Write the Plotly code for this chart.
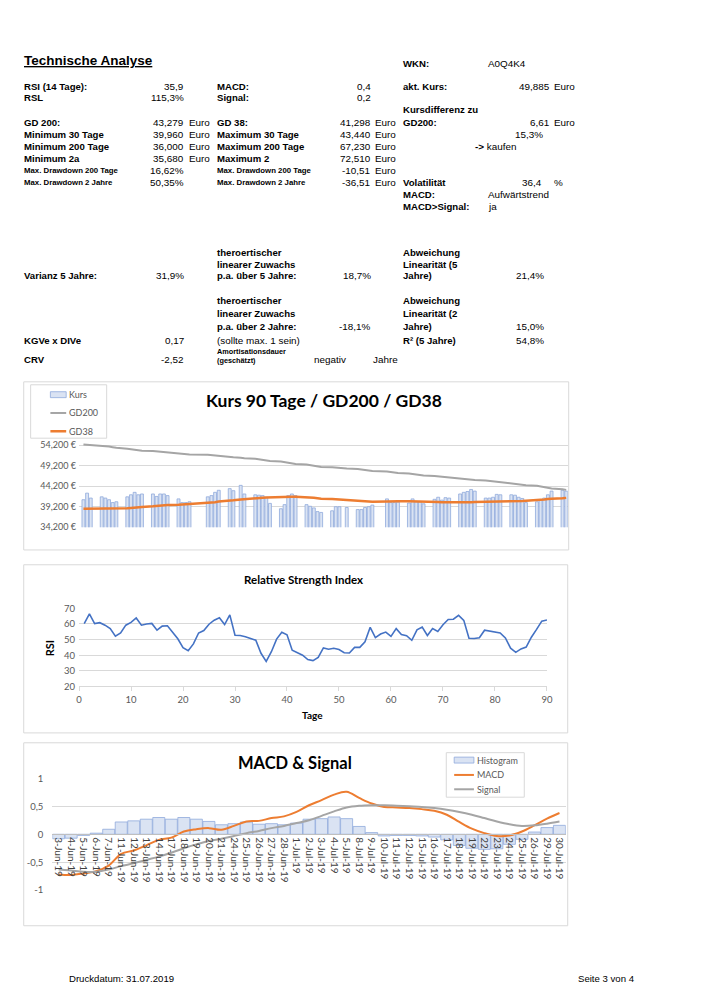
import plotly.graph_objects as go

W, H = 706, 999


def X(px):
    return px / W


def Y(py):
    return 1 - py / H


# ---------------- DATA ----------------
kurs_dates = [
    "2019-03-20", "2019-03-21", "2019-03-22", "2019-03-25", "2019-03-26", "2019-03-27", "2019-03-28", "2019-03-29",
    "2019-04-01", "2019-04-02", "2019-04-03", "2019-04-04", "2019-04-05", "2019-04-08", "2019-04-09", "2019-04-10",
    "2019-04-11", "2019-04-12", "2019-04-15", "2019-04-16", "2019-04-17", "2019-04-18", "2019-04-23", "2019-04-24",
    "2019-04-25", "2019-04-26", "2019-04-29", "2019-04-30",
    "2019-05-02", "2019-05-03", "2019-05-06", "2019-05-07", "2019-05-08", "2019-05-09", "2019-05-10", "2019-05-13",
    "2019-05-14", "2019-05-15", "2019-05-16", "2019-05-17", "2019-05-20", "2019-05-21", "2019-05-22", "2019-05-23",
    "2019-05-24", "2019-05-27", "2019-05-28", "2019-05-29", "2019-05-31",
    "2019-06-03", "2019-06-04", "2019-06-05", "2019-06-06", "2019-06-07", "2019-06-11", "2019-06-12", "2019-06-13",
    "2019-06-14", "2019-06-17", "2019-06-18", "2019-06-19", "2019-06-20", "2019-06-21", "2019-06-24", "2019-06-25",
    "2019-06-26", "2019-06-27", "2019-06-28",
    "2019-07-01", "2019-07-02", "2019-07-03", "2019-07-04", "2019-07-05", "2019-07-08", "2019-07-09", "2019-07-10",
    "2019-07-11", "2019-07-12", "2019-07-15", "2019-07-16", "2019-07-17", "2019-07-18", "2019-07-19", "2019-07-22",
    "2019-07-23", "2019-07-24", "2019-07-25", "2019-07-26", "2019-07-29", "2019-07-30",
]

kurs = [
    40900, 42500, 41300, 41600, 41300, 40900, 40200, 40400,
    41600, 42100, 42700, 42100, 42300, 42300, 41700, 42300, 42300, 41900, 41100, 40200, 40200, 40400,
    41600, 41900, 42700, 43200, 43600, 43100,
    44400, 42300, 42100, 42000, 41900, 41500, 40000, 38700, 39700, 41900, 42300, 41900,
    39700, 39300, 38900, 38000, 37800, 38200, 39200, 39200, 39000,
    38500, 38500, 39000, 39200, 39600, 41100, 40200, 40200, 40300, 40100, 41100, 40400, 40400, 39900,
    41000, 41500, 40800, 41400, 41300,
    42300, 42700, 42900, 43400, 43000, 41300, 41300, 41500, 42200, 42100, 42100, 42000, 41500, 41200, 40200,
    40400, 40900, 41300, 42100, 43000, 43200, 43000,
]

gd200 = [
    54350, 54280, 54220, 54100, 53980, 53850, 53700, 53550,
    53350, 53180, 53050, 52950, 52850, 52750, 52660, 52550, 52450, 52380, 52250, 52120, 52020, 51950,
    51850, 51750, 51620, 51500, 51380, 51250,
    51120, 51000, 50880, 50750, 50600, 50480, 50350, 50220, 50080, 49920, 49780, 49620,
    49480, 49350, 49200, 49050, 48900, 48800, 48700, 48600, 48500,
    48400, 48280, 48170, 48050, 47920, 47800, 47680, 47550, 47420, 47300, 47180, 47050, 46920, 46800,
    46700, 46600, 46480, 46350, 46220,
    46100, 45980, 45880, 45780, 45680, 45580, 45480, 45350, 45220, 45100, 44980, 44850, 44720, 44580, 44450,
    44320, 44180, 43980, 43800, 43620, 43450, 43300,
]

gd38 = [
    38700, 38700, 38700, 38700, 38700, 38720, 38720, 38750,
    38800, 38900, 39000, 39050, 39150, 39300, 39400, 39500, 39550, 39600, 39700, 39750, 39800, 39850,
    40050, 40150, 40300, 40450, 40600, 40750,
    40950, 41050, 41200, 41300, 41380, 41450, 41500, 41550, 41600, 41650, 41650, 41620,
    41550, 41450, 41350, 41250, 41150, 41050, 40950, 40900, 40800,
    40650, 40550, 40450, 40400, 40400, 40450, 40500, 40500, 40500, 40500, 40500, 40500, 40450, 40450,
    40400, 40350, 40300, 40280, 40250,
    40250, 40250, 40280, 40300, 40320, 40350, 40380, 40400, 40420, 40450, 40480, 40500, 40550, 40600, 40650,
    40750, 40850, 40950, 41050, 41150, 41250, 41350,
]

kurs_ticks = [34200, 39200, 44200, 49200, 54200, 59200]
# the top label (59,200 €) sits behind the legend box in the original
kurs_ticktext = ["34,200 €", "39,200 €", "44,200 €", "49,200 €", "54,200 €", ""]

rsi_days = list(range(1, 91))
rsi = [
    60.2, 66.5, 60.2, 60.8, 59.2, 57.0, 52.2, 54.2, 59.2, 61.0,
    63.8, 59.2, 60.0, 60.3, 56.0, 58.6, 58.8, 55.0, 50.5, 44.8,
    42.8, 47.2, 54.2, 55.8, 59.8, 62.4, 63.9, 59.6, 65.8, 52.8,
    52.6, 51.8, 50.5, 49.6, 41.2, 36.0, 42.2, 50.3, 54.6, 53.0,
    43.2, 41.6, 40.0, 37.2, 36.5, 38.6, 44.6, 43.8, 44.4, 43.6,
    41.6, 41.4, 45.0, 45.0, 48.5, 57.8, 51.2, 53.5, 54.8, 52.0,
    57.0, 53.2, 52.5, 49.5, 56.2, 58.0, 52.6, 57.0, 55.2, 59.5,
    62.8, 63.0, 65.5, 62.3, 50.8, 50.7, 51.2, 56.0, 55.3, 54.8,
    54.2, 51.0, 44.5, 41.8, 44.0, 45.2, 51.5, 56.5, 61.8, 62.5,
]

macd_dates = [
    "3-Jun-19", "4-Jun-19", "5-Jun-19", "6-Jun-19", "7-Jun-19", "11-Jun-19", "12-Jun-19", "13-Jun-19",
    "14-Jun-19", "17-Jun-19", "18-Jun-19", "19-Jun-19", "20-Jun-19", "21-Jun-19", "24-Jun-19", "25-Jun-19",
    "26-Jun-19", "27-Jun-19", "28-Jun-19", "1-Jul-19", "2-Jul-19", "3-Jul-19", "4-Jul-19", "5-Jul-19",
    "8-Jul-19", "9-Jul-19", "10-Jul-19", "11-Jul-19", "12-Jul-19", "15-Jul-19", "16-Jul-19", "17-Jul-19",
    "18-Jul-19", "19-Jul-19", "22-Jul-19", "23-Jul-19", "24-Jul-19", "25-Jul-19", "26-Jul-19", "29-Jul-19",
    "30-Jul-19",
]
histogram = [
    -0.08, -0.07, -0.02, 0.02, 0.09, 0.22, 0.24, 0.27, 0.30, 0.27, 0.30, 0.27, 0.23, 0.17, 0.19, 0.22,
    0.18, 0.19, 0.17, 0.20, 0.27, 0.28, 0.31, 0.28, 0.14, 0.03, -0.03, -0.02, -0.02, -0.03, -0.05, -0.10,
    -0.20, -0.25, -0.27, -0.26, -0.18, -0.09, 0.04, 0.12, 0.16,
]
macd = [
    -0.72, -0.73, -0.70, -0.66, -0.56, -0.35, -0.29, -0.20, -0.10, -0.06, 0.05, 0.09, 0.11, 0.08, 0.15, 0.23,
    0.24, 0.29, 0.32, 0.40, 0.52, 0.61, 0.71, 0.76, 0.65, 0.55, 0.49, 0.48, 0.47, 0.45, 0.42, 0.35,
    0.22, 0.10, 0.02, -0.03, -0.02, 0.05, 0.16, 0.28, 0.38,
]
signal = [
    -0.63, -0.65, -0.67, -0.67, -0.63, -0.57, -0.52, -0.46, -0.40, -0.33, -0.25, -0.18, -0.12, -0.08, -0.03, 0.02,
    0.06, 0.11, 0.15, 0.20, 0.25, 0.33, 0.41, 0.48, 0.51, 0.52, 0.52, 0.51, 0.50, 0.49, 0.47, 0.44,
    0.40, 0.35, 0.29, 0.23, 0.18, 0.15, 0.16, 0.19, 0.23,
]
macd_ticks = [-1, -0.5, 0, 0.5, 1]
macd_ticktext = ["-1", "-0,5", "0", "0,5", "1"]

# ---------------- FIGURE ----------------
CH = "Lato"
TXT = "Liberation Sans"
GRID = "#d9d9d9"
BAR_FILL = "#dae3f3"
BAR_LINE = "#8faadc"
ORANGE = "#ed7d31"
GREY = "#a5a5a5"
LEGTXT = "#595959"

fig = go.Figure()

fig.add_trace(go.Bar(x=kurs_dates, y=kurs, name="Kurs", width=0.8 * 86400000,
                     marker=dict(color=BAR_FILL, line=dict(color=BAR_LINE, width=0.8)),
                     xaxis="x", yaxis="y", showlegend=False))
fig.add_trace(go.Scatter(x=kurs_dates, y=gd200, name="GD200", mode="lines",
                         line=dict(color=GREY, width=2), xaxis="x", yaxis="y", showlegend=False))
fig.add_trace(go.Scatter(x=kurs_dates, y=gd38, name="GD38", mode="lines",
                         line=dict(color=ORANGE, width=2.5), xaxis="x", yaxis="y", showlegend=False))

fig.add_trace(go.Scatter(x=rsi_days, y=rsi, name="RSI", mode="lines", line=dict(color="#4472c4", width=1.6),
                         xaxis="x2", yaxis="y2", showlegend=False))

fig.add_trace(go.Bar(x=macd_dates, y=histogram, name="Histogram",
                     marker=dict(color=BAR_FILL, line=dict(color=BAR_LINE, width=0.8)),
                     xaxis="x3", yaxis="y3", showlegend=False))
fig.add_trace(go.Scatter(x=macd_dates, y=macd, name="MACD", mode="lines",
                         line=dict(color=ORANGE, width=2, shape="spline"),
                         xaxis="x3", yaxis="y3", showlegend=False))
fig.add_trace(go.Scatter(x=macd_dates, y=signal, name="Signal", mode="lines",
                         line=dict(color=GREY, width=2, shape="spline"),
                         xaxis="x3", yaxis="y3", showlegend=False))

tickfont = dict(family=CH, size=9, color="#595959")

fig.update_layout(
    width=W, height=H, margin=dict(l=0, r=0, t=0, b=0, pad=0),
    paper_bgcolor="white", plot_bgcolor="rgba(0,0,0,0)",
    bargap=0.04, showlegend=False,
    font=dict(family=CH, color="#595959"),
    xaxis=dict(domain=[X(77), X(572)], anchor="y", type="date",
               range=["2019-03-18 19:00", "2019-07-30 10:00"],
               showticklabels=False, showgrid=False, zeroline=False, showline=False, ticks=""),
    yaxis=dict(domain=[Y(527), Y(423.3)], anchor="x", range=[34200, 59200],
               tickvals=kurs_ticks, ticktext=kurs_ticktext, tickfont=tickfont,
               gridcolor=GRID, gridwidth=1, zeroline=False, showline=False, ticklabelstandoff=2),
    xaxis2=dict(domain=[X(77), X(551)], anchor="y2", range=[0, 90], tickvals=list(range(0, 91, 10)),
                tickfont=dict(family=CH, size=9.5, color="#595959"), showgrid=False, zeroline=False,
                showline=True, linecolor=GRID, ticks="outside", ticklen=4, tickcolor=GRID),
    yaxis2=dict(domain=[Y(688), Y(609)], anchor="x2", range=[20, 70], tickvals=list(range(20, 71, 10)),
                tickfont=dict(family=CH, size=9.5, color="#595959"), gridcolor=GRID, zeroline=False,
                showline=False, ticklabelstandoff=3),
    xaxis3=dict(domain=[X(50), X(570)], anchor="free", position=Y(837.5), type="category",
                range=[-0.5, len(macd_dates) - 0.5], tickvals=macd_dates, ticktext=macd_dates,
                tickangle=90, tickfont=dict(family=CH, size=10, color="#404040"),
                showgrid=False, zeroline=False, showline=True, linecolor="#bfbfbf", ticks=""),
    yaxis3=dict(domain=[Y(894), Y(781)], anchor="x3", range=[-1, 1], tickvals=macd_ticks,
                ticktext=macd_ticktext, tickfont=dict(family=CH, size=9.5, color="#595959"),
                gridcolor=GRID, zeroline=False, showline=False, ticklabelstandoff=8),
)

shapes = []


def rect(x0, y0, x1, y1, line=GRID, fill="rgba(0,0,0,0)", lw=1, layer="above"):
    shapes.append(dict(type="rect", xref="paper", yref="paper", x0=X(x0), x1=X(x1), y0=Y(y1), y1=Y(y0),
                       line=dict(color=line, width=lw), fillcolor=fill, layer=layer))


def seg(x0, x1, y, color, lw):
    shapes.append(dict(type="line", xref="paper", yref="paper", x0=X(x0), x1=X(x1), y0=Y(y), y1=Y(y),
                       line=dict(color=color, width=lw), layer="above"))


# chart frames
for (x0, y0, x1, y1) in [(21, 380, 573, 550), (21, 565, 572, 735), (21, 745, 572, 930)]:
    rect(x0, y0, x1, y1, layer="below")

ann = []


def t(x, y, s, size=10, bold=False, anchor="left", family=TXT, color="#000000", angle=0):
    ann.append(dict(x=X(x), y=Y(y), xref="paper", yref="paper", text=("<b>%s</b>" % s) if bold else s,
                    showarrow=False, xanchor=anchor, yanchor="middle", textangle=angle,
                    font=dict(family=family, size=size, color=color), borderpad=0))


# legend 1 (Kurs chart)
rect(28, 383, 105, 437, line=GRID, fill="white")
rect(48, 390, 64, 396, line=BAR_LINE, fill=BAR_FILL, lw=0.8)
seg(48, 64, 411.5, GREY, 2)
seg(48, 64, 430, ORANGE, 2.5)
t(66, 393, "Kurs", size=9, family=CH, color=LEGTXT)
t(66, 411.5, "GD200", size=9, family=CH, color=LEGTXT)
t(66, 430, "GD38", size=9, family=CH, color=LEGTXT)

# legend 2 (MACD chart)
rect(449, 755, 528, 800, line=GRID, fill="white")
rect(457, 759.5, 477, 765.5, line=BAR_LINE, fill=BAR_FILL, lw=0.8)
seg(457, 477, 777.5, ORANGE, 2)
seg(457, 477, 792, GREY, 2)
t(479, 762.5, "Histogram", size=9, family=CH, color=LEGTXT)
t(479, 777.5, "MACD", size=9, family=CH, color=LEGTXT)
t(479, 792, "Signal", size=9, family=CH, color=LEGTXT)

# chart titles
t(325, 399, "Kurs 90 Tage / GD200 / GD38", size=17.5, bold=True, anchor="center", family=CH, color="#000000")
t(304, 580, "Relative Strength Index", size=11.5, bold=True, anchor="center", family=CH, color="#000000")
t(314, 717, "Tage", size=10, bold=True, anchor="center", family=CH, color="#000000")
t(47, 649, "RSI", size=11, bold=True, anchor="center", family=CH, color="#000000", angle=-90)
t(296, 765, "MACD & Signal", size=16.5, bold=True, anchor="center", family=CH, color="#000000")

# header text
LB, LR, SM = 9.6, 9.9, 7.8
t(20, 55, "<u>Technische Analyse</u>", size=13.5, bold=True)

left_labels = [("RSI (14 Tage):", 81, LB), ("RSL", 93, LB), ("GD 200:", 118, LB), ("Minimum 30 Tage", 130, LB),
               ("Minimum 200 Tage", 142, LB), ("Minimum 2a", 154, LB), ("Max. Drawdown 200 Tage", 166.5, SM),
               ("Max. Drawdown 2 Jahre", 178.5, SM), ("Varianz 5 Jahre:", 273, LB), ("KGVe x DIVe", 338, LB),
               ("CRV", 357, LB)]
for s, y, sz in left_labels:
    t(20, y, s, size=sz, bold=True)
left_vals = [("35,9", 81), ("115,3%", 93), ("43,279", 118), ("39,960", 130), ("36,000", 142), ("35,680", 154),
             ("16,62%", 166.5), ("50,35%", 178.5), ("31,9%", 273), ("0,17", 338), ("-2,52", 357)]
for s, y in left_vals:
    t(184, y, s, size=LR, anchor="right")
for y in (118, 130, 142, 154):
    t(187, y, "Euro", size=LR)

mid_labels = [("MACD:", 81, LB), ("Signal:", 93, LB), ("GD 38:", 118, LB), ("Maximum 30 Tage", 130, LB),
              ("Maximum 200 Tage", 142, LB), ("Maximum 2", 154, LB), ("Max. Drawdown 200 Tage", 166.5, SM),
              ("Max. Drawdown 2 Jahre", 178.5, SM), ("theroertischer", 249, LB), ("linearer Zuwachs", 261, LB),
              ("p.a. über 5 Jahre:", 273, LB), ("theroertischer", 298, LB), ("linearer Zuwachs", 311, LB),
              ("p.a. über 2 Jahre:", 324, LB), ("Amortisationsdauer", 349, 7.3), ("(geschätzt)", 358, 7.3)]
for s, y, sz in mid_labels:
    t(216, y, s, size=sz, bold=True)
t(216, 338, "(sollte max. 1 sein)", size=LR)
mid_vals = [("0,4", 81), ("0,2", 93), ("41,298", 118), ("43,440", 130), ("67,230", 142), ("72,510", 154),
            ("-10,51", 166.5), ("-36,51", 178.5), ("18,7%", 273), ("-18,1%", 324)]
for s, y in mid_vals:
    t(374, y, s, size=LR, anchor="right")
for y in (118, 130, 142, 154, 166.5, 178.5):
    t(376, y, "Euro", size=LR)
t(314, 357, "negativ", size=LR)
t(374, 357, "Jahre", size=LR)

right_labels = [("WKN:", 58), ("akt. Kurs:", 81), ("Kursdifferenz zu", 105), ("GD200:", 118),
                ("Volatilität", 178.5), ("MACD:", 190.5), ("MACD>Signal:", 203), ("Abweichung", 249),
                ("Linearität (5", 261), ("Jahre)", 273), ("Abweichung", 298), ("Linearität (2", 311),
                ("Jahre)", 324), ("R² (5 Jahre)", 338)]
for s, y in right_labels:
    t(404, y, s, size=LB, bold=True)
t(490, 58, "A0Q4K4", size=LR)
t(555, 81, "49,885", size=LR, anchor="right")
t(557, 81, "Euro", size=LR)
t(555, 118, "6,61", size=LR, anchor="right")
t(557, 118, "Euro", size=LR)
t(548, 130, "15,3%", size=LR, anchor="right")
t(477, 142, "<b>-></b> kaufen", size=LR)
t(547, 178.5, "36,4", size=LR, anchor="right")
t(557, 178.5, "%", size=LR)
t(490, 190.5, "Aufwärtstrend", size=LR)
t(490, 203, "ja", size=LR)
t(549, 273, "21,4%", size=LR, anchor="right")
t(549, 324, "15,0%", size=LR, anchor="right")
t(549, 338, "54,8%", size=LR, anchor="right")

# footer
t(66, 983, "Druckdatum: 31.07.2019", size=9.6)
t(641, 983, "Seite 3 von 4", size=9.6, anchor="right")

fig.update_layout(annotations=ann, shapes=shapes)
fig.write_html("out.html", config={"displayModeBar": False},
               post_script="document.body.style.margin='0';document.body.style.overflow='hidden';"
                           "document.documentElement.style.overflow='hidden';")
